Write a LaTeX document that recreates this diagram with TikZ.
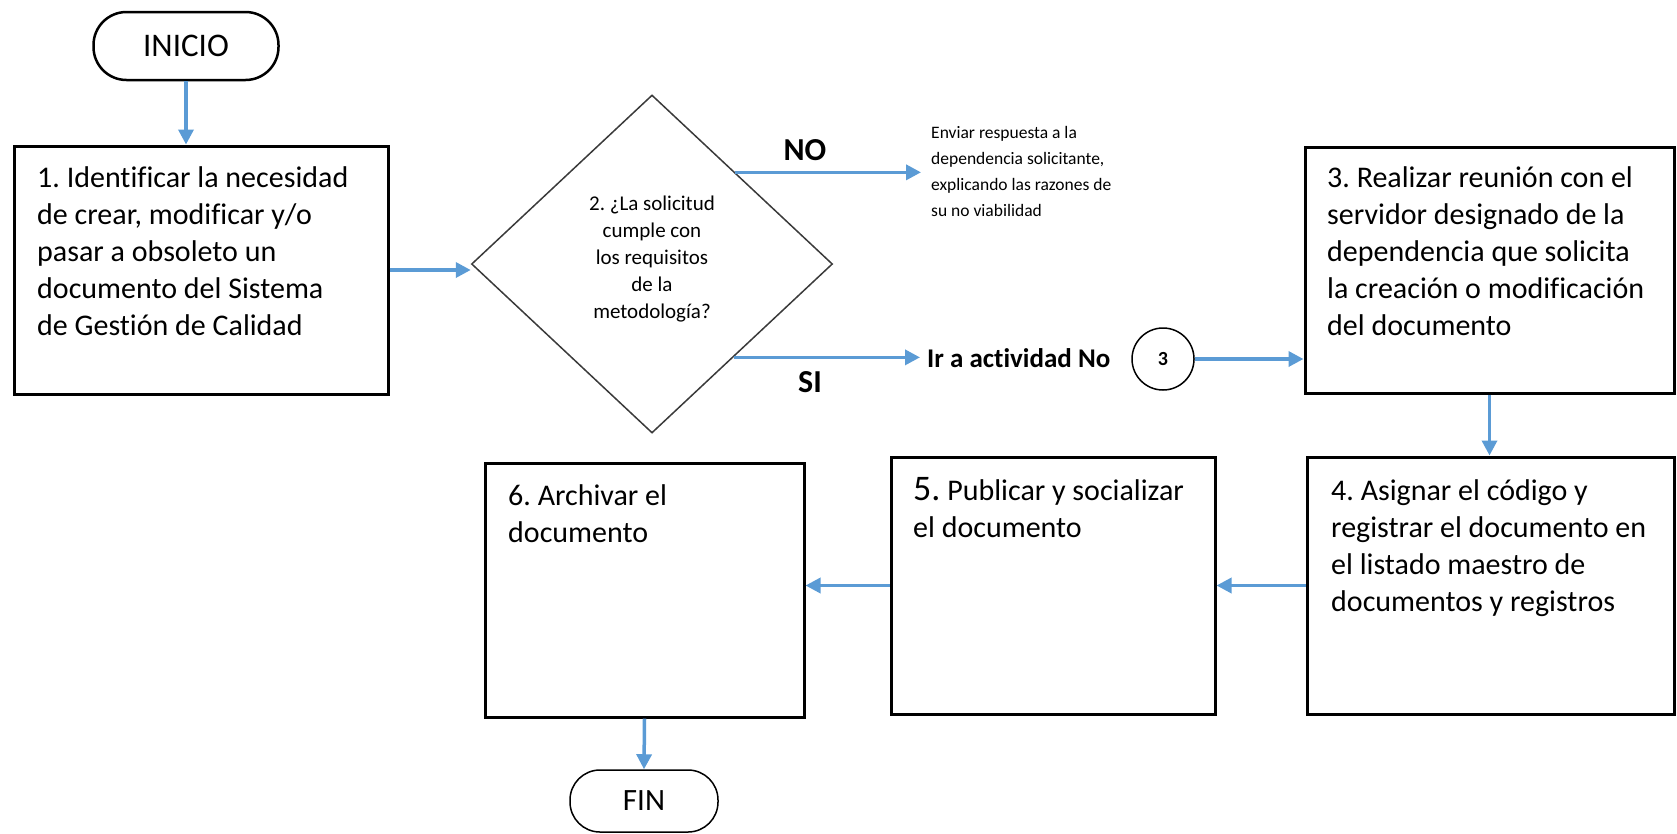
\documentclass[tikz,border=0pt]{standalone}
\usepackage{fontspec}
\setmainfont{Carlito}[Ligatures=NoCommon]
\frenchspacing
\usetikzlibrary{shapes.geometric,arrows.meta,calc}
\definecolor{flowblue}{HTML}{5B9BD5}
\definecolor{dgray}{HTML}{3A3A3A}
\tikzset{
  procbox/.style={draw=black, line width=3pt, rectangle, inner sep=0pt},
  boxtext/.style={anchor=north west, align=left, inner sep=0pt, font=\fontsize{30}{37}\selectfont},
  flow/.style={draw=flowblue, line width=3.5pt, -{Triangle[length=15pt,width=15pt]}},
  termnode/.style={draw=black, rectangle, inner sep=0pt},
  lbl/.style={inner sep=0pt, font=\fontsize{32}{36}\selectfont\bfseries},
}
\begin{document}
\begin{tikzpicture}[x=1pt,y=-1pt]
\useasboundingbox (0,0) rectangle (1677,833);

% terminals
\node[termnode, line width=2.5pt, rounded corners=33pt, minimum width=185pt, minimum height=68pt,
      font=\fontsize{33}{36}\selectfont] (ini) at (186,46) {INICIO};
\node[termnode, line width=1.5pt, rounded corners=30pt, minimum width=148pt, minimum height=62pt,
      font=\fontsize{31}{36}\selectfont] (fin) at (644,801) {FIN};

% process boxes
\node[procbox, minimum width=374pt, minimum height=248pt] (b1) at (201,270) {};
\node[procbox, minimum width=369pt, minimum height=246pt] (b3) at (1489.5,270) {};
\node[procbox, minimum width=367pt, minimum height=257pt] (b4) at (1490.5,585.5) {};
\node[procbox, minimum width=324pt, minimum height=257pt] (b5) at (1053,585.5) {};
\node[procbox, minimum width=319pt, minimum height=254pt] (b6) at (644.5,590) {};

\node[boxtext] (t1) at (37,166) {1. Identificar la necesidad\\de crear, modificar y/o\\pasar a obsoleto un\\documento del Sistema\\de Gestión de Calidad};
\node[boxtext] (t3) at (1327,166) {3. Realizar reunión con el\\servidor designado de la\\dependencia que solicita\\la creación o modificación\\del documento};
\node[boxtext] (t4) at (1331,479) {4. Asignar el código y\\registrar el documento en\\el listado maestro de\\documentos y registros};
\node[boxtext] (t5) at (913,477) {{\fontsize{36}{37}\selectfont 5.} Publicar y socializar\\el documento};
\node[boxtext] (t6) at (508,484) {6. Archivar el\\documento};

% decision
\node[diamond, draw=dgray, line width=1.5pt, minimum width=361pt, minimum height=338pt, inner sep=0pt] (dia) at (652,264) {};
\node[align=center, inner sep=0pt, font=\fontsize{21}{27}\selectfont] (dtext) at (652,259)
      {2. ¿La solicitud\\cumple con\\los requisitos\\de la\\metodología?};

\node[anchor=north west, align=left, inner xsep=10pt, inner ysep=0pt, font=\fontsize{17.5}{26}\selectfont]
  (env) at (921,126.5) {Enviar respuesta a la\\dependencia solicitante,\\explicando las razones de\\su no viabilidad};

\node[anchor=west, inner xsep=7pt, inner ysep=0pt, font=\fontsize{27}{30}\selectfont\bfseries] (ira) at (920,358) {Ir a actividad No};
\node[circle, draw=black, line width=1.5pt, minimum size=62pt, inner sep=0pt, font=\fontsize{20}{22}\selectfont\bfseries] (c3) at (1163,359) {3};

\node[lbl] (no) at (805,150) {NO};
\node[lbl] (si) at (810,382) {SI};

% connectors
\coordinate (nostart) at ($(dia.north)!0.46!(dia.east)$);
\coordinate (sistart) at ($(dia.east)!0.55!(dia.south)$);
\draw[flow] (ini.south) -- (ini.south |- b1.north);
\draw[flow] (b1.east) -- (b1.east -| dia.west);
\draw[flow] (nostart) -- (nostart -| env.west);
\draw[flow] (sistart) -- (sistart -| ira.west);
\draw[flow] (c3.east) -- (c3.east -| b3.west);
\draw[flow] (b3.south) -- (b3.south |- b4.north);
\draw[flow] (b4.west) -- (b4.west -| b5.east);
\draw[flow] (b5.west) -- (b5.west -| b6.east);
\draw[flow] (b6.south) -- (fin.north);
\end{tikzpicture}
\end{document}
